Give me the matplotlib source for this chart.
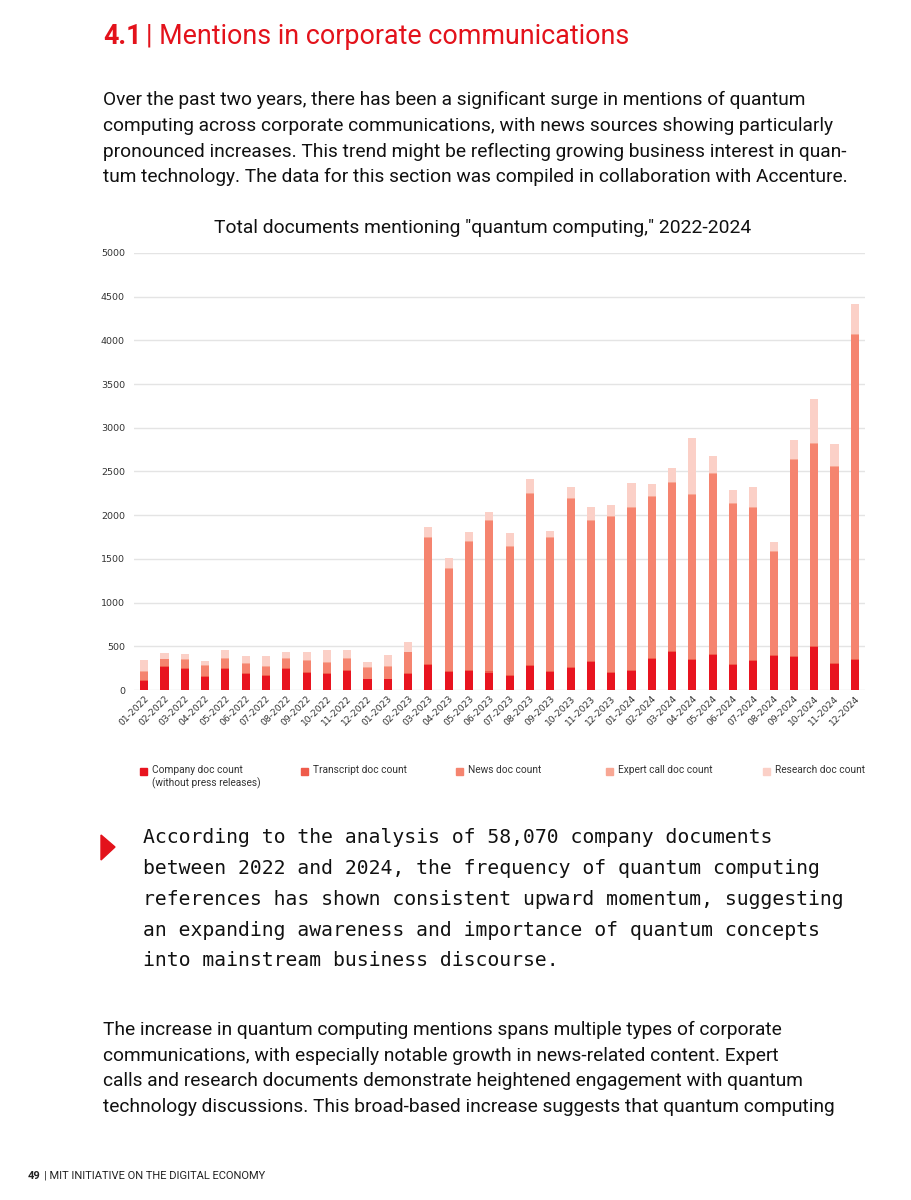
import matplotlib
matplotlib.use("Agg")
import matplotlib.pyplot as plt
import numpy as np

W, H = 911, 1200

months = ["01-2022", "02-2022", "03-2022", "04-2022", "05-2022", "06-2022",
          "07-2022", "08-2022", "09-2022", "10-2022", "11-2022", "12-2022",
          "01-2023", "02-2023", "03-2023", "04-2023", "05-2023", "06-2023",
          "07-2023", "08-2023", "09-2023", "10-2023", "11-2023", "12-2023",
          "01-2024", "02-2024", "03-2024", "04-2024", "05-2024", "06-2024",
          "07-2024", "08-2024", "09-2024", "10-2024", "11-2024", "12-2024"]

company = [104, 262, 238, 154, 238, 181, 165, 242, 200, 181, 223, 123,
           123, 185, 281, 204, 223, 200, 165, 269, 204, 254, 323, 192,
           212, 358, 435, 338, 396, 285, 327, 388, 381, 492, 300, 338]
transcript = [8, 10, 9, 8, 10, 8, 8, 10, 9, 9, 10, 7,
              8, 10, 12, 10, 11, 12, 10, 12, 11, 12, 12, 11,
              12, 13, 14, 12, 13, 12, 12, 10, 13, 14, 13, 15]
news = [95, 78, 100, 112, 110, 112, 90, 106, 122, 122, 125, 122,
        132, 235, 1445, 1168, 1459, 1719, 1464, 1965, 1521, 1914, 1603, 1778,
        1860, 1836, 1924, 1876, 2060, 1834, 1746, 1180, 2240, 2309, 2233, 3709]
expert = [5, 8, 7, 7, 7, 7, 6, 7, 7, 7, 7, 6,
          6, 8, 12, 10, 11, 11, 11, 12, 10, 12, 12, 11,
          12, 12, 12, 12, 12, 11, 11, 10, 12, 12, 12, 15]
research = [134, 65, 58, 54, 97, 77, 116, 66, 97, 143, 97, 57,
            135, 108, 115, 119, 107, 89, 146, 153, 77, 127, 142, 123,
            277, 139, 153, 647, 200, 146, 231, 104, 219, 507, 261, 338]

series = [company, transcript, news, expert, research]
labels = ["Company doc count\n(without press releases)", "Transcript doc count",
          "News doc count", "Expert call doc count", "Research doc count"]
colors = ["#e8141f", "#ef5b4b", "#f5846f", "#f8a794", "#fbd0c7"]

RED = "#e3121b"
SANS = ["Roboto", "DejaVu Sans"]
MONO = ["DejaVu Sans Mono"]

fig = plt.figure(figsize=(W / 100, H / 100), dpi=100)


def fx(px):
    return px / W


def fy(py):
    return 1 - py / H


# header
fig.text(fx(103), fy(44), "4.1", color=RED, fontsize=19.4, fontweight="bold",
         family=SANS, va="baseline")
fig.text(fx(146), fy(44), "| Mentions in corporate communications", color=RED,
         fontsize=19.4, family=SANS, va="baseline")

intro = ("Over the past two years, there has been a significant surge in mentions of quantum\n"
         "computing across corporate communications, with news sources showing particularly\n"
         "pronounced increases. This trend might be reflecting growing business interest in quan-\n"
         "tum technology. The data for this section was compiled in collaboration with Accenture.")
fig.text(fx(103), fy(91), intro, fontsize=13.8, family=SANS, va="top",
         linespacing=1.55, color="#111111")

fig.text(fx(483), fy(228), 'Total documents mentioning "quantum computing," 2022-2024',
         fontsize=13.9, family=SANS, ha="center", va="center", color="#111111")

# chart
ax = fig.add_axes([fx(134), fy(690), fx(865) - fx(134), (690 - 253) / H])
x = np.arange(len(months))
bottom = np.zeros(len(months))
for vals, col in zip(series, colors):
    ax.bar(x, vals, width=0.4, bottom=bottom, color=col, zorder=3)
    bottom += np.array(vals)

ax.set_xlim(-0.5, len(months) - 0.5)
ax.set_ylim(0, 5000)
ax.set_yticks(np.arange(0, 5001, 500))
ax.grid(axis="y", color="#e4e4e4", linewidth=1, zorder=0)
for s in ax.spines.values():
    s.set_visible(False)
ax.tick_params(axis="y", length=0, pad=6.5, labelsize=6.8, labelcolor="#333333")
ax.tick_params(axis="x", length=0, pad=3, labelsize=6.6, labelcolor="#333333")
ax.set_xticks(x)
ax.set_xticklabels(months, rotation=45, ha="right", rotation_mode="anchor")

# legend, drawn by hand so the two-line label hangs from the swatch
leg_x = [140, 301, 456, 606, 763]
for lx, lab, col in zip(leg_x, labels, colors):
    fig.patches.append(plt.Rectangle((fx(lx), fy(775)), 7 / W, 7 / H, color=col,
                                     transform=fig.transFigure, figure=fig))
    fig.text(fx(lx + 12), fy(765), lab, fontsize=7.3, family=SANS, va="top",
             linespacing=1.3, color="#333333")

# callout
fig.patches.append(plt.Polygon([[fx(101), fy(835)], [fx(101), fy(860)], [fx(115), fy(847)]],
                               closed=True, color=RED, transform=fig.transFigure, figure=fig))
callout = ("According to the analysis of 58,070 company documents\n"
           "between 2022 and 2024, the frequency of quantum computing\n"
           "references has shown consistent upward momentum, suggesting\n"
           "an expanding awareness and importance of quantum concepts\n"
           "into mainstream business discourse.")
fig.text(fx(143), fy(828), callout, fontsize=14.2, family=MONO,
         va="top", linespacing=1.79, color="#111111")

outro = ("The increase in quantum computing mentions spans multiple types of corporate\n"
         "communications, with especially notable growth in news-related content. Expert\n"
         "calls and research documents demonstrate heightened engagement with quantum\n"
         "technology discussions. This broad-based increase suggests that quantum computing")
fig.text(fx(103), fy(1021), outro, fontsize=13.8, family=SANS, va="top",
         linespacing=1.55, color="#111111")

# footer
fig.text(fx(28), fy(1176), "49", fontsize=8, fontweight="bold", family=SANS,
         va="center", color="#222222")
fig.text(fx(44), fy(1176), "| MIT INITIATIVE ON THE DIGITAL ECONOMY", fontsize=8,
         family=SANS, va="center", color="#222222")

fig.savefig("out.png", dpi=100, facecolor="white")
